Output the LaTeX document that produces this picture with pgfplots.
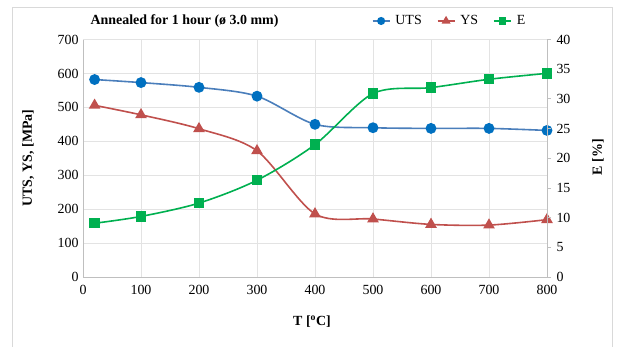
\documentclass[border=0pt]{standalone}
\usepackage{pgfplots}
\pgfplotsset{compat=1.18}
\usepackage{fontspec}
\setmainfont{Liberation Serif}
\definecolor{utsM}{HTML}{0070C0}
\definecolor{utsL}{HTML}{4A7EBB}
\definecolor{ysC}{HTML}{C0504D}
\definecolor{eC}{HTML}{00B050}
\definecolor{gridc}{HTML}{E3E3E3}
\definecolor{axisc}{HTML}{BFBFBF}
\definecolor{framec}{HTML}{D9D9D9}
\pgfplotstableread{
T UTS YS E
20 582 506 9.05
100 573 478 10.2
200 559 437 12.45
300 533 372 16.3
400 450 186 22.3
500 440 171 30.9
600 438 155 31.9
700 438 153 33.3
800 432 169 34.3
}\datatable
\begin{document}
\begin{tikzpicture}
\path[use as bounding box] (0,0) rectangle (619bp,347bp);
\draw[framec, line width=0.8bp] (12bp,0) -- (12bp,340bp) -- (612bp,340bp) -- (612bp,0);
\pgfplotsset{
  every axis/.append style={
    at={(83bp,70bp)}, anchor=south west, scale only axis,
    width=464bp, height=237.5bp, xmin=0, xmax=800,
    /pgf/number format/assume math mode=true,
    tick label style={font=\fontsize{14}{16}\selectfont},
  },
}
\begin{axis}[
  ymin=0, ymax=700,
  xtick={0,100,...,800}, ytick={0,100,...,700},
  grid=major, major grid style={draw=gridc, line width=0.8bp},
  axis line style={draw=axisc, line width=0.8bp},
  axis x line*=bottom, axis y line*=left,
  tick style={draw=none},
  xticklabel style={yshift=-5bp},
  yticklabel style={xshift=-1bp},
]
\addplot[utsL, line width=1.6bp, smooth, tension=0.5, mark=*, mark size=4.6bp, mark options={fill=utsM, draw=utsM}] table[x=T, y=UTS] {\datatable};
\addplot[ysC, line width=1.6bp, smooth, tension=0.5, mark=triangle*, mark size=5.2bp, mark options={fill=ysC, draw=ysC}] table[x=T, y=YS] {\datatable};
\end{axis}
\begin{axis}[
  ymin=0, ymax=40, ytick={0,5,...,40},
  axis x line=none, axis y line*=right,
  axis line style={draw=axisc, line width=0.8bp},
  tick style={draw=axisc, line width=0.8bp}, tick align=outside, major tick length=4bp,
  yticklabel style={xshift=2bp},
  legend columns=3,
  legend style={at={(0.790,1.078)}, anchor=center, draw=none, fill=none,
    font=\fontsize{14}{16}\selectfont,
    /tikz/every odd column/.append style={column sep=3bp},
    /tikz/every even column/.append style={column sep=13bp}},
  legend image code/.code={
    \draw[#1, mark repeat=2, mark phase=2] plot coordinates {(0bp,0bp) (8.5bp,0bp) (17bp,0bp)};
  },
]
\addlegendimage{utsL, line width=1.6bp, mark=*, mark size=3.2bp, mark options={fill=utsM, draw=utsM}}
\addlegendentry{UTS}
\addlegendimage{ysC, line width=1.6bp, mark=triangle*, mark size=3.6bp, mark options={fill=ysC, draw=ysC}}
\addlegendentry{YS}
\addplot[eC, line width=1.6bp, smooth, tension=0.5, mark=square*, mark size=4.4bp, mark options={fill=eC, draw=eC}, forget plot] table[x=T, y=E] {\datatable};
\addlegendimage{eC, line width=1.6bp, mark=square*, mark size=3bp, mark options={fill=eC, draw=eC}}
\addlegendentry{E}
\end{axis}
\node[font=\bfseries\fontsize{14}{16}\selectfont, anchor=west] at (87bp,326bp) {Annealed for 1 hour (ø 3.0 mm)};
\node[font=\bfseries\fontsize{14}{16}\selectfont, rotate=90] at (28bp,189bp) {UTS, YS, [MPa]};
\node[font=\bfseries\fontsize{14}{16}\selectfont, rotate=90] at (598bp,190bp) {E [\%]};
\node[font=\bfseries\fontsize{14}{16}\selectfont] at (312bp,25bp) {T [\textsuperscript{o}C]};
\end{tikzpicture}
\end{document}
